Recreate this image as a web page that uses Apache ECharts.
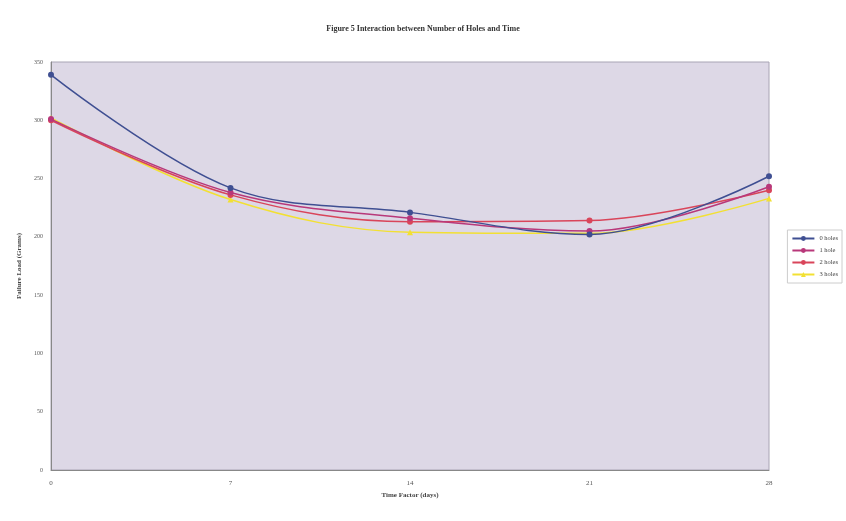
<!DOCTYPE html>
<html><head><meta charset="utf-8">
<script src="https://cdn.jsdelivr.net/npm/echarts@6/dist/echarts.min.js"></script>
<style>html,body{margin:0;padding:0;background:#fff}#c{width:846px;height:521px}</style>
</head><body><div id="c"></div>
<script>
const days = [0, 7, 14, 21, 28];
const holes0 = [339, 242, 221, 202, 252];
const holes1 = [301, 238, 216, 205, 243];
const holes2 = [300, 236, 213, 214, 240];
const holes3 = [302, 232, 204, 203, 233];
const seriesNames = ['0 holes', '1 hole', '2 holes', '3 holes'];
const colors = ['#3f4f92', '#b8387a', '#d9455a', '#f2e033'];
const symbols = ['circle', 'circle', 'circle', 'triangle'];
const all = [holes0, holes1, holes2, holes3];

const chart = echarts.init(document.getElementById('c'));
chart.setOption({
  backgroundColor: '#fff',
  animation: false,
  textStyle: {fontFamily: 'Liberation Serif'},
  title: {text: 'Figure 5 Interaction between Number of Holes and Time', left: 'center', top: 20,
    textStyle: {fontSize: 8, fontWeight: 'bold', color: '#333', fontFamily: 'Liberation Serif'}},
  grid: {left: 51, right: 77, top: 62, bottom: 51, show: true, backgroundColor: '#ddd8e6', borderColor: '#a8a4b4', borderWidth: 1},
  legend: {orient: 'vertical', right: 4, top: 230, itemWidth: 22, itemHeight: 6, itemGap: 5,
    backgroundColor: '#fff', borderColor: '#ccc', borderWidth: 1, padding: [5, 4],
    textStyle: {fontSize: 6.5, color: '#444'}, data: seriesNames},
  xAxis: {type: 'value', min: 0, max: 28, interval: 7,
    name: 'Time Factor (days)', nameLocation: 'middle', nameGap: 22,
    nameTextStyle: {fontSize: 7, fontWeight: 'bold', color: '#444'},
    axisLine: {lineStyle: {color: '#888'}}, axisTick: {show: false}, splitLine: {show: false},
    axisLabel: {fontSize: 7, color: '#555', margin: 10}},
  yAxis: {type: 'value', min: 0, max: 350, interval: 50,
    name: 'Failure Load (Grams)', nameLocation: 'middle', nameGap: 24,
    nameTextStyle: {fontSize: 7, fontWeight: 'bold', color: '#444'},
    axisLine: {show: true, lineStyle: {color: '#888'}}, axisTick: {show: false}, splitLine: {show: false},
    axisLabel: {fontSize: 6, color: '#555', margin: 8}},
  series: all.map((d, i) => ({
    name: seriesNames[i], type: 'line', smooth: 0.35,
    data: days.map((x, j) => [x, d[j]]),
    symbol: symbols[i], symbolSize: 6,
    lineStyle: {width: 1.5, color: colors[i]},
    itemStyle: {color: colors[i]},
    z: 10 - i
  }))
});
</script></body></html>
